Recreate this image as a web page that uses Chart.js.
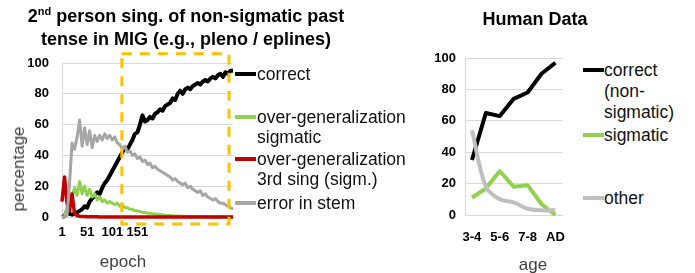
<!DOCTYPE html>
<html>
<head>
<meta charset="utf-8">
<script src="https://cdn.jsdelivr.net/npm/chart.js@4.4.1/dist/chart.umd.min.js"></script>
<style>
body { margin: 0; width: 695px; height: 273px; background: #fff; position: relative; overflow: hidden; font-family: "Liberation Sans", Arial, sans-serif; }
canvas { position: absolute; top: 0; }
.txt { position: absolute; white-space: nowrap; }
.title { font-weight: bold; font-size: 18px; line-height: 23px; text-align: center; color: #000; }
.axis { font-size: 17px; color: #404040; transform: translate(-50%, -50%); }
.leg { font-size: 17.5px; line-height: 20px; color: #111; }
.mark { position: absolute; height: 4px; }
</style>
</head>
<body>
<canvas id="model-chart" width="240" height="273" style="left:0"></canvas>
<canvas id="human-chart" width="160" height="273" style="left:420px"></canvas>

<div class="txt title" style="left:0;width:372px;top:5px">2<sup style="font-size:11px;line-height:0">nd</sup> person sing. of non-sigmatic past<br>tense in MIG (e.g., pleno / eplines)</div>
<div class="txt title" style="left:435px;width:200px;top:8px">Human Data</div>

<div class="txt axis" style="left:19px;top:169px;transform:translate(-50%,-50%) rotate(-90deg)">percentage</div>
<div class="txt axis" style="left:123px;top:262px">epoch</div>
<div class="txt axis" style="left:533px;top:265px">age</div>

<div class="mark" style="left:235px;width:21px;top:72px;background:#000"></div>
<div class="txt leg" style="left:257px;top:64px">correct</div>
<div class="mark" style="left:235px;width:21px;top:115px;background:#92D050"></div>
<div class="txt leg" style="left:257px;top:107px">over-generalization<br>sigmatic</div>
<div class="mark" style="left:235px;width:21px;top:157px;background:#C00000"></div>
<div class="txt leg" style="left:257px;top:149px">over-generalization<br>3rd sing (sigm.)</div>
<div class="mark" style="left:235px;width:21px;top:201px;background:#A6A6A6"></div>
<div class="txt leg" style="left:257px;top:193px">error in stem</div>

<div class="mark" style="left:583px;width:21px;top:68px;background:#000"></div>
<div class="txt leg" style="left:604px;top:60px;line-height:21px">correct<br>(non-<br>sigmatic)</div>
<div class="mark" style="left:583px;width:21px;top:133px;background:#92D050"></div>
<div class="txt leg" style="left:604px;top:125px">sigmatic</div>
<div class="mark" style="left:583px;width:21px;top:196px;background:#BFBFBF"></div>
<div class="txt leg" style="left:604px;top:188px">other</div>

<script>
const FONT = '"Liberation Sans", Arial, sans-serif';

// model simulation, sampled every 5 epochs
const EPOCHS = [1, 6, 11, 16, 21, 26, 31, 36, 41, 46, 51, 56, 61, 66, 71, 76, 81, 86, 91, 96,
    101, 106, 111, 116, 121, 126, 131, 136, 141, 146, 151, 156, 161, 166, 171, 176, 181, 186, 191, 196,
    201, 206, 211, 216, 221, 226, 231, 236, 241, 246, 251, 256, 261, 266, 271, 276, 281, 286, 291, 296,
    301, 306, 311, 316, 321, 326, 331, 336, 341];
const EPOCH_TICKS = [1, 51, 101, 151];
const CORRECT = [0, 0.5, 4, 2, 1.5, 2, 3, 4, 5, 7,
    6, 10, 12, 14, 16, 15, 19, 22, 24, 27,
    30, 33, 36, 39, 42, 45, 44, 47, 50, 54,
    55, 60, 66, 62, 63, 65, 64, 67, 68, 70,
    69, 72, 73, 74, 77, 76, 80, 82, 80, 83,
    84, 83, 85, 86, 87, 86, 88, 89, 88, 90,
    91, 90, 92, 93, 91, 94, 93, 95, 95];
const OVERGEN_SIGMATIC = [0, 0, 6, 16, 13, 19, 14, 23, 15, 20,
    14, 18, 13, 15, 11, 13, 10, 11, 9, 10,
    9, 8, 9, 7, 8, 6, 6, 5, 5, 4,
    4, 3.5, 3, 3, 2.5, 2.5, 2, 2, 1.8, 1.5,
    1.5, 1.2, 1, 1, 0.8, 0.7, 0.6, 0.5, 0.5, 0.4,
    0.3, 0.3, 0.3, 0.2, 0.2, 0.2, 0.1, 0.2, 0.1, 0.1,
    0.1, 0, 0.1, 0, 0, 0, 0, 0, 0];
const OVERGEN_3RD = [10, 26, 9, 4, 15, 2, 1, 0.5, 0.4, 0.3,
    0.2, 0.2, 0.1, 0.1, 0.1, 0, 0, 0, 0, 0,
    0, 0, 0, 0, 0, 0, 0, 0, 0, 0,
    0, 0, 0, 0, 0, 0, 0, 0, 0, 0,
    0, 0, 0, 0, 0, 0, 0, 0, 0, 0,
    0, 0, 0, 0, 0, 0, 0, 0, 0, 0,
    0, 0, 0, 0, 0, 0, 0, 0, 0];
const STEM_ERROR = [0, 0, 1, 22, 48, 44, 52, 63, 46, 58,
    47, 56, 45, 53, 49, 53, 50, 54, 51, 53,
    50, 52, 48, 47, 44, 46, 42, 43, 40, 41,
    38, 39, 36, 37, 34, 35, 32, 33, 31, 30,
    29, 28, 27, 26, 24, 25, 23, 22, 21, 22,
    19, 20, 18, 17, 16, 17, 14, 15, 13, 12,
    11, 12, 10, 9, 9, 8, 7, 6, 5];
// highlighted region (epochs, percentage)
const FOCUS_EPOCHS = [120, 333];
const FOCUS_RANGE = [-4.5, 106];

// human data
const AGES = ['3-4', '4-5', '5-6', '6-7', '7-8', '8-9', 'AD'];
const AGE_TICKS = ['3-4', '5-6', '7-8', 'AD'];
const HUMAN_CORRECT = [35, 65, 63, 74, 78, 90, 97];
const HUMAN_SIGMATIC = [11, 17, 28, 18, 19, 7, 0];
const HUMAN_OTHER = [54, 18, 10, 8, 4, 3, 3];

function toPoints(values) {
    return values.map((v, i) => ({x: EPOCHS[i], y: v}));
}

function lineDataset(label, color, width, data, order) {
    return {
        label: label,
        data: data,
        borderColor: color,
        backgroundColor: color,
        borderWidth: width,
        borderJoinStyle: 'round',
        pointRadius: 0,
        tension: 0,
        clip: false,
        order: order
    };
}

function tickFont() {
    return {family: FONT, size: 13, weight: 'bold'};
}

function yAxis(width, padding) {
    return {
        min: 0,
        max: 100,
        ticks: {stepSize: 20, color: '#000', font: tickFont(), padding: padding},
        grid: {color: '#d9d9d9', drawTicks: false},
        border: {color: '#d9d9d9'},
        afterFit: s => { s.width = width; }
    };
}

const focusBox = {
    id: 'focusBox',
    afterDraw(chart) {
        const ctx = chart.ctx;
        const x = chart.scales.x, y = chart.scales.y;
        const left = x.getPixelForValue(FOCUS_EPOCHS[0]);
        const right = x.getPixelForValue(FOCUS_EPOCHS[1]);
        const top = y.getPixelForValue(FOCUS_RANGE[1]);
        const bottom = y.getPixelForValue(FOCUS_RANGE[0]);
        ctx.save();
        ctx.strokeStyle = '#FFC000';
        ctx.lineWidth = 3;
        ctx.setLineDash([10, 8]);
        ctx.strokeRect(left, top, right - left, bottom - top);
        ctx.restore();
    }
};

function commonOptions(padding, scales) {
    return {
        responsive: false,
        animation: false,
        layout: {padding: padding},
        plugins: {legend: {display: false}, title: {display: false}, tooltip: {enabled: false}},
        scales: scales
    };
}

new Chart(document.getElementById('model-chart'), {
    type: 'line',
    data: {
        datasets: [
            lineDataset('correct', '#000000', 4, toPoints(CORRECT), 3),
            lineDataset('over-generalization sigmatic', '#92D050', 3, toPoints(OVERGEN_SIGMATIC), 2),
            lineDataset('over-generalization 3rd sing (sigm.)', '#C00000', 3.5, toPoints(OVERGEN_3RD), 1),
            lineDataset('error in stem', '#A6A6A6', 3, toPoints(STEM_ERROR), 0)
        ]
    },
    options: commonOptions({top: 63, right: 7, left: 0, bottom: 0}, {
        x: {
            type: 'linear',
            min: EPOCHS[0],
            max: EPOCHS[EPOCHS.length - 1],
            afterBuildTicks: s => { s.ticks = EPOCH_TICKS.map(v => ({value: v})); },
            ticks: {color: '#000', font: tickFont(), padding: 8, maxRotation: 0, autoSkip: false},
            grid: {display: false, drawTicks: false},
            border: {color: '#d9d9d9'},
            afterFit: s => { s.height = 56; }
        },
        y: yAxis(62, 13)
    }),
    plugins: [focusBox]
});

new Chart(document.getElementById('human-chart'), {
    type: 'line',
    data: {
        labels: AGES,
        datasets: [
            lineDataset('correct (non-sigmatic)', '#000000', 4, HUMAN_CORRECT, 2),
            lineDataset('sigmatic', '#92D050', 4, HUMAN_SIGMATIC, 1),
            Object.assign(lineDataset('other', '#BFBFBF', 4, HUMAN_OTHER, 0), {tension: 0.35})
        ]
    },
    options: commonOptions({top: 58, right: 3, left: 0, bottom: 0}, {
        x: {
            type: 'category',
            offset: true,
            ticks: {
                color: '#000', font: tickFont(), padding: 15, maxRotation: 0, autoSkip: false,
                callback: (v, i) => AGE_TICKS.includes(AGES[i]) ? AGES[i] : null
            },
            grid: {display: false, drawTicks: false},
            border: {color: '#d9d9d9'},
            afterFit: s => { s.height = 58; }
        },
        y: yAxis(45, 9)
    })
});
</script>
</body>
</html>
